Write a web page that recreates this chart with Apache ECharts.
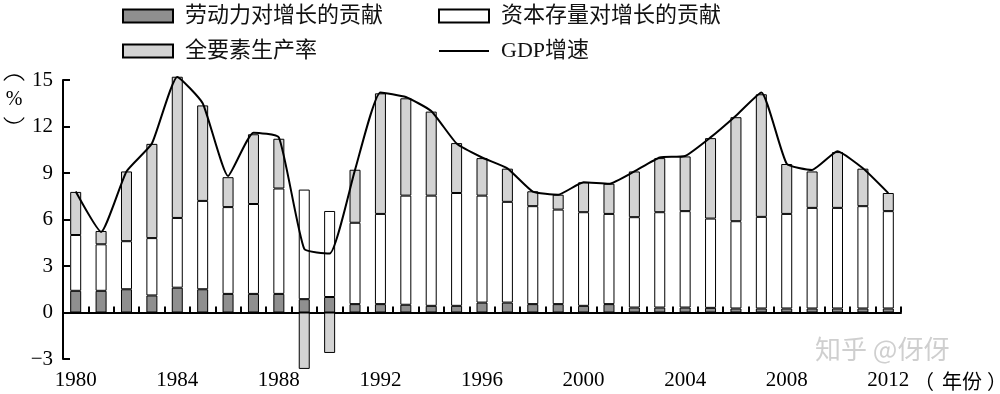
<!DOCTYPE html>
<html>
<head>
<meta charset="utf-8">
<script src="https://cdn.jsdelivr.net/npm/echarts@6/dist/echarts.min.js"></script>
<style>html,body{margin:0;padding:0;background:#fff;}#c{width:1000px;height:394px;}</style>
</head>
<body>
<div id="c"></div>
<script>
const years = [1980,1981,1982,1983,1984,1985,1986,1987,1988,1989,1990,1991,1992,1993,1994,1995,1996,1997,1998,1999,2000,2001,2002,2003,2004,2005,2006,2007,2008,2009,2010,2011,2012];
const labor = [1.4,1.4,1.5,1.1,1.6,1.5,1.2,1.2,1.2,0.86,1.0,0.54,0.54,0.5,0.43,0.43,0.64,0.64,0.54,0.54,0.43,0.54,0.32,0.32,0.32,0.3,0.26,0.26,0.26,0.26,0.26,0.26,0.26];
const capital = [3.6,3.0,3.1,3.7,4.5,5.7,5.6,5.8,6.8,7.07,5.55,5.25,5.82,7.04,7.11,7.28,6.9,6.5,6.32,6.1,6.04,5.82,5.83,6.15,6.22,5.76,5.63,5.91,6.1,6.49,6.49,6.6,6.28];
const tfp = [2.78,0.86,4.5,6.08,9.11,6.16,1.93,4.5,3.21,-3.64,-2.61,3.42,7.78,6.28,5.42,3.22,2.42,2.14,0.96,0.96,1.93,1.95,2.95,3.49,3.53,5.19,6.71,7.91,3.22,2.35,3.6,2.42,1.17];
const gdp = [7.8,5.2,9.1,10.9,15.2,13.5,8.8,11.6,11.3,4.1,3.8,9.2,14.2,13.9,13.0,10.9,10.0,9.3,7.8,7.6,8.4,8.3,9.1,10.0,10.1,11.3,12.7,14.2,9.6,9.2,10.4,9.3,7.7];
const yTicks = {min: -3, max: 15, interval: 3};
const names = ['劳动力对增长的贡献', '资本存量对增长的贡献', '全要素生产率', 'GDP增速'];

const serif = "'Liberation Serif','Noto Sans CJK SC',serif";
const cjk = "'Noto Sans CJK SC',sans-serif";
const chart = echarts.init(document.getElementById('c'));
const barCommon = {type: 'bar', stack: 'total', barWidth: 11, clip: false};
const legendCommon = {orient: 'vertical', top: 0, itemWidth: 50, itemHeight: 13, itemGap: 13, symbolKeepAspect: true,
  textStyle: {fontSize: 22, color: '#111', fontFamily: serif, padding: [0,0,0,7]}};
chart.setOption({
  animation: false,
  backgroundColor: '#fff',
  textStyle: {fontFamily: serif},
  legend: [
    Object.assign({}, legendCommon, {left: 117, data: [{name: names[0], icon: 'rect'}, {name: names[2], icon: 'rect'}]}),
    Object.assign({}, legendCommon, {left: 433, data: [{name: names[1], icon: 'rect'}, {name: names[3], icon: 'path://M0,0H50V2H0Z'}]})
  ],
  grid: {left: 63, right: 99, top: 80, bottom: 35, outerBoundsMode: 'none', containLabel: false},
  xAxis: [{
    type: 'category', data: years, boundaryGap: true,
    axisLine: {onZero: true, lineStyle: {color: '#000', width: 2}},
    axisTick: {show: true, inside: true, length: 6, interval: 0, lineStyle: {color: '#000', width: 2}},
    axisLabel: {show: false}
  }, {
    type: 'category', data: years, boundaryGap: true, position: 'bottom',
    axisLine: {show: false, onZero: false}, axisTick: {show: false},
    axisLabel: {interval: 3, margin: 11, fontSize: 21, color: '#000', fontFamily: serif}
  }],
  yAxis: {
    type: 'value', min: yTicks.min, max: yTicks.max, interval: yTicks.interval,
    axisLine: {show: true, lineStyle: {color: '#000', width: 2}},
    axisTick: {show: true, inside: true, length: 7, lineStyle: {color: '#000', width: 2}},
    splitLine: {show: false},
    axisLabel: {margin: 10, fontSize: 21, color: '#000', fontFamily: serif,
      formatter: v => v < 0 ? '\u2212' + Math.abs(v) : String(v)}
  },
  graphic: [
    {type: 'arc', shape: {cx: 14, cy: 87, r: 12, startAngle: -Math.PI/2 - 1.0, endAngle: -Math.PI/2 + 1.0}, style: {stroke: '#000', lineWidth: 1.3, fill: null}},
    {type: 'text', x: 14, y: 100, style: {text: '%', fontSize: 20, fill: '#000', align: 'center', verticalAlign: 'middle', fontFamily: serif}},
    {type: 'arc', shape: {cx: 14, cy: 111, r: 12, startAngle: Math.PI/2 - 1.0, endAngle: Math.PI/2 + 1.0}, style: {stroke: '#000', lineWidth: 1.3, fill: null}},
    {type: 'text', x: 914, y: 381, style: {text: '（', fontSize: 20, fill: '#000', verticalAlign: 'middle', fontFamily: cjk}},
    {type: 'text', x: 942, y: 381, style: {text: '年份', fontSize: 20, fill: '#000', verticalAlign: 'middle', fontFamily: cjk}},
    {type: 'text', x: 987, y: 381, style: {text: '）', fontSize: 20, fill: '#000', verticalAlign: 'middle', fontFamily: cjk}},
    {type: 'text', left: 815, top: 336, style: {text: '知乎 @伢伢', fontSize: 26, fill: '#cfcfcf', fontFamily: cjk}}
  ],
  series: [
    Object.assign({}, barCommon, {name: names[0], data: labor, itemStyle: {color: '#8f8f8f', borderColor: '#000', borderWidth: 1}}),
    Object.assign({}, barCommon, {name: names[1], data: capital, itemStyle: {color: '#fff', borderColor: '#000', borderWidth: 1}}),
    Object.assign({}, barCommon, {name: names[2], data: tfp, itemStyle: {color: '#d3d3d3', borderColor: '#000', borderWidth: 1}}),
    {type: 'line', name: names[3], data: gdp, symbol: 'none', smooth: 0.15, z: 5, clip: false,
     lineStyle: {color: '#000', width: 2}, itemStyle: {color: '#000'}}
  ]
});
</script>
</body>
</html>
